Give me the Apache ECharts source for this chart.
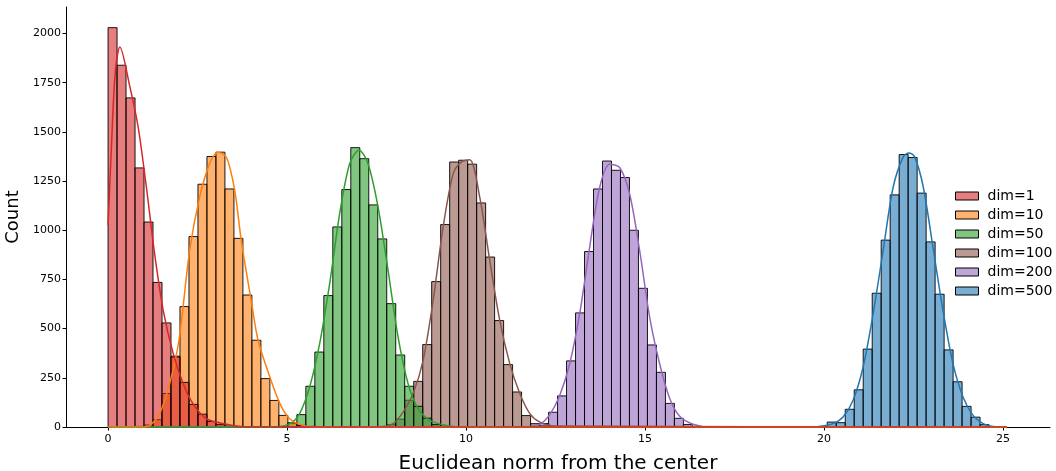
<!DOCTYPE html>
<html>
<head>
<meta charset="utf-8">
<script src="https://cdn.jsdelivr.net/npm/echarts@6/dist/echarts.min.js"></script>
<style>
html,body{margin:0;padding:0;background:#fff;}
#chart{width:1056px;height:471px;}
</style>
</head>
<body>
<div id="chart"></div>
<script>
// ---- data ----
const categories = ['dim=1', 'dim=10', 'dim=50', 'dim=100', 'dim=200', 'dim=500'];
const binWidth = 0.2511;                 // common histogram bin width
const firstBin = [0, 2, 19, 29, 46, 79];  // index of first non-empty bin per series

const counts_dim1   = [2030, 1839, 1673, 1317, 1042, 735, 529, 356, 227, 115, 65, 28, 12, 5, 2];
const counts_dim10  = [1, 3, 10, 37, 170, 360, 612, 968, 1234, 1375, 1397, 1210, 959, 671, 441, 246, 135, 59, 22, 8, 3, 1];
const counts_dim50  = [3, 17, 63, 207, 381, 668, 1017, 1207, 1420, 1364, 1129, 956, 627, 366, 207, 105, 45, 12, 4, 1];
const counts_dim100 = [1, 3, 12, 40, 136, 232, 419, 739, 1029, 1347, 1356, 1336, 1139, 864, 541, 317, 178, 58, 17, 5, 1];
const counts_dim200 = [1, 4, 18, 75, 158, 336, 580, 892, 1210, 1352, 1305, 1268, 1000, 705, 417, 278, 120, 44, 13, 3];
const counts_dim500 = [3, 25, 22, 90, 189, 396, 680, 950, 1180, 1385, 1370, 1189, 941, 675, 392, 230, 105, 50, 12];

const kdeX_dim1 = [0, 0.1, 0.2, 0.33, 0.61, 0.84, 1.07, 1.30, 1.54, 1.82, 2.10, 2.37, 2.75, 3.31, 3.87, 25.1];
const kdeY_dim1 = [1025, 1450, 1800, 1932, 1729, 1525, 1220, 881, 593, 373, 220, 119, 42, 14, 0, 0];
const kdeX_dim10 = [0, 1.0, 1.17, 1.44, 1.72, 1.98, 2.28, 2.56, 2.84, 3.07, 3.31, 3.54, 3.72, 4.0, 4.19, 4.52, 4.8, 5.07, 5.45, 6.0, 25.1];
const kdeY_dim10 = [0, 0, 8, 68, 220, 441, 900, 1170, 1340, 1397, 1370, 1200, 949, 640, 441, 254, 119, 42, 8, 0, 0];
const kdeX_dim50 = [0, 4.6, 5.08, 5.35, 5.63, 5.91, 6.19, 6.47, 6.75, 7.01, 7.26, 7.54, 7.82, 8.10, 8.38, 8.66, 8.99, 9.45, 10.0, 25.1];
const kdeY_dim50 = [0, 0, 17, 68, 203, 424, 729, 1085, 1339, 1407, 1339, 1119, 797, 458, 220, 93, 34, 8, 0, 0];
const kdeX_dim100 = [0, 7.5, 7.96, 8.24, 8.52, 8.80, 9.08, 9.36, 9.64, 9.87, 10.10, 10.38, 10.66, 10.94, 11.22, 11.50, 11.78, 12.06, 12.5, 25.1];
const kdeY_dim100 = [0, 0, 17, 76, 170, 339, 644, 1017, 1288, 1348, 1359, 1170, 848, 542, 322, 170, 68, 25, 5, 0];
const kdeX_dim200 = [0, 11.6, 12.06, 12.34, 12.61, 12.89, 13.17, 13.45, 13.73, 14.01, 14.29, 14.57, 14.85, 15.13, 15.41, 15.68, 15.96, 16.34, 16.8, 25.1];
const kdeY_dim200 = [0, 0, 14, 64, 158, 319, 573, 912, 1217, 1336, 1319, 1183, 895, 556, 319, 149, 56, 14, 0, 0];
const kdeX_dim500 = [0, 19.5, 19.88, 20.25, 20.53, 20.81, 21.09, 21.37, 21.65, 21.93, 22.21, 22.37, 22.53, 22.77, 23.04, 23.32, 23.60, 23.88, 24.16, 24.44, 24.72, 25.1];
const kdeY_dim500 = [0, 0, 3, 17, 51, 136, 305, 576, 898, 1220, 1373, 1393, 1373, 1220, 915, 593, 322, 153, 59, 17, 3, 0];

const xTicks = [0, 5, 10, 15, 20, 25];
const yTicks = [0, 250, 500, 750, 1000, 1250, 1500, 1750, 2000];

// ---- styling ----
const colors = ['#d62728', '#ff7f0e', '#2ca02c', '#8c564b', '#9467bd', '#1f77b4'];
const fillAlpha = 0.6;
const FONT = 'DejaVu Sans';

function rgba(hex, a) {
  const n = parseInt(hex.slice(1), 16);
  return 'rgba(' + ((n >> 16) & 255) + ',' + ((n >> 8) & 255) + ',' + (n & 255) + ',' + a + ')';
}

const allCounts = [counts_dim1, counts_dim10, counts_dim50, counts_dim100, counts_dim200, counts_dim500];
const allKdeX = [kdeX_dim1, kdeX_dim10, kdeX_dim50, kdeX_dim100, kdeX_dim200, kdeX_dim500];
const allKdeY = [kdeY_dim1, kdeY_dim10, kdeY_dim50, kdeY_dim100, kdeY_dim200, kdeY_dim500];

function histData(i) {
  return allCounts[i].map((c, j) => {
    const k = firstBin[i] + j;
    return [k * binWidth, (k + 1) * binWidth, c];
  });
}

function makeRender(color) {
  return function (params, api) {
    const x0 = api.value(0), x1 = api.value(1), c = api.value(2);
    const pTop = api.coord([x0, c]);
    const pBot = api.coord([x1, 0]);
    return {
      type: 'rect',
      shape: { x: pTop[0], y: pTop[1], width: pBot[0] - pTop[0], height: pBot[1] - pTop[1] },
      style: { fill: rgba(color, fillAlpha), stroke: 'rgba(0,0,0,0.9)', lineWidth: 1 }
    };
  };
}

const series = [];
// draw higher dims first so lower dims sit on top (as in the reference)
for (let i = categories.length - 1; i >= 0; i--) {
  series.push({
    name: categories[i],
    type: 'custom',
    renderItem: makeRender(colors[i]),
    encode: { x: [0, 1], y: 2 },
    data: histData(i),
    itemStyle: { color: rgba(colors[i], fillAlpha) },
    z: 2
  });
}
for (let i = categories.length - 1; i >= 0; i--) {
  series.push({
    name: categories[i],
    type: 'line',
    data: allKdeX[i].map((x, j) => [x, allKdeY[i][j]]),
    showSymbol: false,
    symbol: 'none',
    smooth: 0.3,
    lineStyle: { color: colors[i], width: 1.5 },
    itemStyle: { color: colors[i] },
    z: 5,
    silent: true
  });
}

const chart = echarts.init(document.getElementById('chart'), null, { renderer: 'canvas' });
chart.setOption({
  animation: false,
  backgroundColor: '#fff',
  textStyle: { fontFamily: FONT },
  grid: { left: 66, right: 6, top: 7, bottom: 44, containLabel: false, outerBoundsMode: 'none' },
  xAxis: {
    type: 'value',
    min: -1.175,
    max: 26.31,
    name: 'Euclidean norm from the center',
    nameLocation: 'middle',
    nameGap: 27,
    nameTextStyle: { fontFamily: FONT, fontSize: 20, color: '#000' },
    axisLine: { show: true, onZero: false, lineStyle: { color: '#000', width: 1 } },
    axisTick: { show: true, length: 3.5, lineStyle: { color: '#000', width: 1 }, customValues: xTicks },
    axisLabel: { fontFamily: FONT, fontSize: 11, color: '#000', margin: 7, customValues: xTicks,
                 formatter: v => String(v) },
    splitLine: { show: false }
  },
  yAxis: {
    type: 'value',
    min: 0,
    max: 2135,
    name: 'Count',
    nameLocation: 'middle',
    nameGap: 44,
    nameTextStyle: { fontFamily: FONT, fontSize: 18, color: '#000' },
    axisLine: { show: true, onZero: false, lineStyle: { color: '#000', width: 1 } },
    axisTick: { show: true, length: 3.5, lineStyle: { color: '#000', width: 1 }, customValues: yTicks },
    axisLabel: { fontFamily: FONT, fontSize: 11, color: '#000', margin: 5, customValues: yTicks,
                 formatter: v => String(v) },
    splitLine: { show: false }
  },
  legend: {
    orient: 'vertical',
    left: 950,
    top: 184,
    itemWidth: 23,
    itemHeight: 8,
    itemGap: 5,
    selectedMode: false,
    textStyle: { fontFamily: FONT, fontSize: 14, color: '#000', lineHeight: 14, padding: [0, 0, 0, 4] },
    data: categories.map((c, i) => ({
      name: c,
      icon: 'rect',
      itemStyle: { color: rgba(colors[i], fillAlpha), borderColor: '#000', borderWidth: 1 }
    }))
  },
  series: series
});
</script>
</body>
</html>
